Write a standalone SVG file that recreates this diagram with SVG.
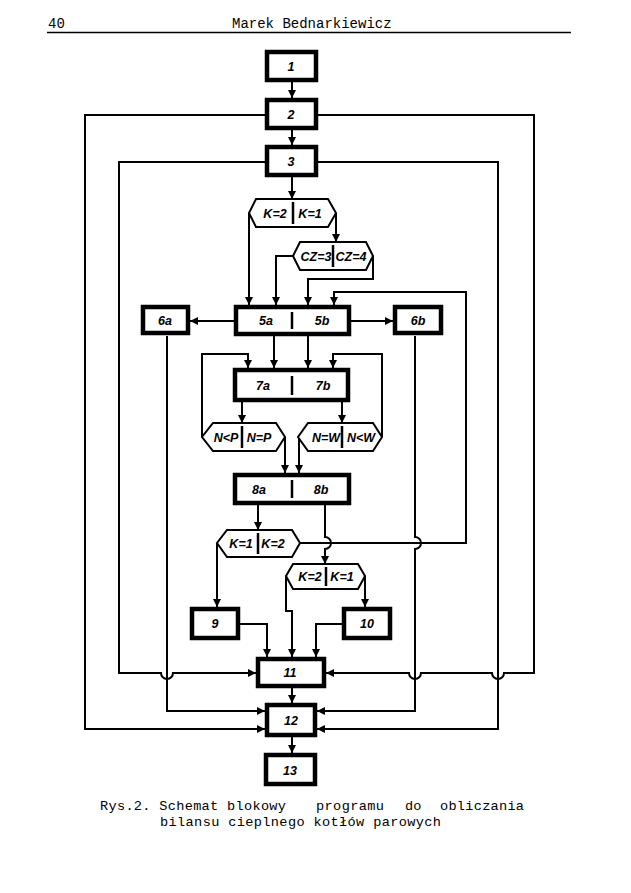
<svg xmlns="http://www.w3.org/2000/svg" width="631" height="893" viewBox="0 0 631 893">
<style>
.box{fill:#fff;stroke:#000;stroke-width:4.5}
.hex{fill:#fff;stroke:#000;stroke-width:2}
.ln{fill:none;stroke:#000;stroke-width:2}
.bar{stroke:#000;stroke-width:2.5}
.lbl{font-family:"Liberation Sans",Arial,sans-serif;font-weight:bold;font-style:italic;font-size:12.5px;text-anchor:middle}
.mono{font-family:"Liberation Mono","Courier New",monospace;font-size:13.6px}
</style>
<defs>
<marker id="ah" viewBox="0 0 10 10" refX="10" refY="5" markerWidth="9" markerHeight="8" markerUnits="userSpaceOnUse" orient="auto"><path d="M0,0 L10,5 L0,10 z" fill="#000"/></marker>
</defs>
<rect width="631" height="893" fill="#fff"/>
<g id="header">
<text class="mono" x="48" y="28" style="font-size:14px">40</text>
<text class="mono" x="232" y="28" style="font-size:14px">Marek Bednarkiewicz</text>
<line x1="47" y1="32.5" x2="571" y2="32.5" stroke="#000" stroke-width="1.5"/>
</g>
<g id="connectors" class="ln" marker-end="url(#ah)">
<path d="M292,82 V98"/>
<path d="M292,130 V145"/>
<path d="M292,177 V199"/>
<path d="M265,115 H85 V729 H265"/>
<path d="M318,115 H534 V673 H504 A6,6 0 0 1 492,673 H421 A6,6 0 0 1 409,673 H326"/>
<path d="M265,162 H119 V673 H161 A6,6 0 0 0 173,673 H256"/>
<path d="M318,162 H498 V729 H317"/>
<path d="M249,213 V305"/>
<path d="M336,213 V242"/>
<path d="M293,256 H276 V305"/>
<path d="M373,256 V279 H308 V305"/>
<path d="M300,543 H466 V292 H334 V305"/>
<path d="M234,321 H190"/>
<path d="M351,321 H393"/>
<path d="M274,336 V368"/>
<path d="M308,336 V368"/>
<path d="M167,336 V711 H265"/>
<path d="M415,336 V537 A6,6 0 0 1 415,549 V711 H317"/>
<path d="M202,437 V354 H248 V368"/>
<path d="M382,437 V354 H333 V368"/>
<path d="M242,402 V423"/>
<path d="M342,402 V423"/>
<path d="M285,437 V473"/>
<path d="M299,437 V473"/>
<path d="M258,505 V530"/>
<path d="M325,505 V537 A6,6 0 0 1 325,549 V564"/>
<path d="M217,543 V607"/>
<path d="M240,624 H267 V657"/>
<path d="M286,576 V611 H292 V657"/>
<path d="M365,576 V607"/>
<path d="M342,624 H316 V657"/>
<path d="M292,688 V703"/>
<path d="M292,737 V753"/>
</g>
<g id="n1"><rect class="box" x="267" y="52" width="49" height="28"/><text class="lbl" x="291" y="71">1</text></g>
<g id="n2"><rect class="box" x="267" y="100" width="49" height="28"/><text class="lbl" x="291" y="119">2</text></g>
<g id="n3"><rect class="box" x="267" y="147" width="49" height="28"/><text class="lbl" x="291" y="166">3</text></g>
<g id="hA"><polygon class="hex" points="256,199 328,199 336,213 328,227 256,227 249,213"/><line class="bar" x1="293" y1="202" x2="293" y2="224"/><text class="lbl" x="275" y="218">K=2</text><text class="lbl" x="310" y="218">K=1</text></g>
<g id="hB"><polygon class="hex" points="300,242 366,242 373,256 366,270 300,270 293,256"/><line class="bar" x1="333" y1="245" x2="333" y2="267"/><text class="lbl" x="316" y="261">CZ=3</text><text class="lbl" x="351" y="261">CZ=4</text></g>
<g id="n5"><rect class="box" x="236" y="307" width="113" height="27"/><line class="bar" x1="292" y1="312" x2="292" y2="329"/><text class="lbl" x="266" y="325">5a</text><text class="lbl" x="322" y="325">5b</text></g>
<g id="n6a"><rect class="box" x="143" y="307" width="45" height="26"/><text class="lbl" x="165" y="325">6a</text></g>
<g id="n6b"><rect class="box" x="395" y="307" width="46" height="26"/><text class="lbl" x="418" y="325">6b</text></g>
<g id="n7"><rect class="box" x="235" y="370" width="113" height="30"/><line class="bar" x1="292" y1="376" x2="292" y2="395"/><text class="lbl" x="263" y="390">7a</text><text class="lbl" x="323" y="390">7b</text></g>
<g id="hN1"><polygon class="hex" points="213,423 276,423 285,437 276,451 213,451 202,437"/><line class="bar" x1="242" y1="426" x2="242" y2="448"/><text class="lbl" x="226" y="442">N&lt;P</text><text class="lbl" x="259" y="442">N=P</text></g>
<g id="hN2"><polygon class="hex" points="308,423 373,423 382,437 373,451 308,451 298,437"/><line class="bar" x1="342" y1="426" x2="342" y2="448"/><text class="lbl" x="326" y="442">N=W</text><text class="lbl" x="361" y="442">N&lt;W</text></g>
<g id="n8"><rect class="box" x="235" y="475" width="114" height="28"/><line class="bar" x1="292" y1="480" x2="292" y2="498"/><text class="lbl" x="259" y="494">8a</text><text class="lbl" x="321" y="494">8b</text></g>
<g id="hC"><polygon class="hex" points="227,530 292,530 300,543 292,557 227,557 217,543"/><line class="bar" x1="258" y1="533" x2="258" y2="554"/><text class="lbl" x="241" y="548">K=1</text><text class="lbl" x="273" y="548">K=2</text></g>
<g id="hD"><polygon class="hex" points="293,564 358,564 365,576 358,589 293,589 286,576"/><line class="bar" x1="326" y1="567" x2="326" y2="586"/><text class="lbl" x="310" y="581">K=2</text><text class="lbl" x="342" y="581">K=1</text></g>
<g id="n9"><rect class="box" x="192" y="609" width="46" height="29"/><text class="lbl" x="215" y="628">9</text></g>
<g id="n10"><rect class="box" x="344" y="609" width="46" height="29"/><text class="lbl" x="367" y="628">10</text></g>
<g id="n11"><rect class="box" x="258" y="659" width="66" height="27"/><text class="lbl" x="290" y="677">11</text></g>
<g id="n12"><rect class="box" x="267" y="705" width="48" height="30"/><text class="lbl" x="291" y="725">12</text></g>
<g id="n13"><rect class="box" x="266" y="755" width="49" height="29"/><text class="lbl" x="290" y="775">13</text></g>
<g id="caption" class="mono">
<text x="100" y="810" textLength="186" lengthAdjust="spacing">Rys.2. Schemat blokowy</text>
<text x="316" y="810" textLength="68">programu</text>
<text x="405" y="810">do</text>
<text x="440" y="810" textLength="84">obliczania</text>
<text x="160" y="826" textLength="281" lengthAdjust="spacing">bilansu cieplnego kotłów parowych</text>
</g>
</svg>
